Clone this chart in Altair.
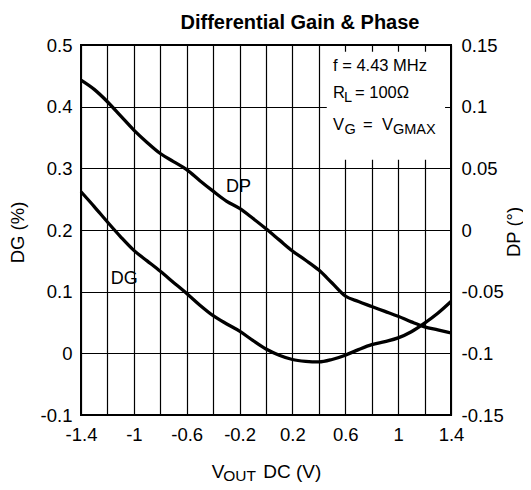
import altair as alt
import pandas as pd

# ---- data ----
vout = [-1.4, -1.3, -1.2, -1.1, -1.0, -0.9, -0.8, -0.7, -0.6, -0.5, -0.4, -0.3, -0.2, -0.1,
        0.0, 0.1, 0.2, 0.3, 0.4, 0.5, 0.6, 0.7, 0.8, 0.9, 1.0, 1.1, 1.2, 1.3, 1.4]
dg_pct = [0.262, 0.238, 0.213, 0.189, 0.167, 0.150, 0.133, 0.115, 0.097, 0.078, 0.061, 0.048,
          0.036, 0.021, 0.007, -0.003, -0.010, -0.013, -0.014, -0.010, -0.003, 0.006, 0.014,
          0.019, 0.025, 0.035, 0.049, 0.065, 0.084]
dp_deg = [0.1215, 0.114, 0.104, 0.0925, 0.081, 0.071, 0.062, 0.0555, 0.049, 0.040, 0.0315,
          0.0235, 0.0175, 0.0095, 0.001, -0.008, -0.017, -0.0245, -0.0325, -0.043, -0.0535,
          -0.058, -0.062, -0.066, -0.070, -0.0745, -0.0785, -0.081, -0.0835]

x_grid = [-1.4, -1.2, -1.0, -0.8, -0.6, -0.4, -0.2, 0.0, 0.2, 0.4, 0.6, 0.8, 1.0, 1.2, 1.4]
dg_ticks = [-0.1, 0.0, 0.1, 0.2, 0.3, 0.4, 0.5]
dp_ticks = [-0.15, -0.1, -0.05, 0.0, 0.05, 0.1, 0.15]
box_x = [0.46, 1.355]
box_y = [0.314, 0.489]

FONT = "Liberation Sans"
TICK_FS = 18.5

df_dg = pd.DataFrame({"x": vout, "v": dg_pct})
df_dp = pd.DataFrame({"x": vout, "v": dp_deg})
df_box = pd.DataFrame({"x": [box_x[0]], "x1": [box_x[1]], "v": [box_y[0]], "v1": [box_y[1]]})

num_fmt = "datum.value < 0 ? '-' + toString(abs(datum.value)) : toString(datum.value)"
x_fmt = "round(abs(datum.value) * 10) % 4 == 2 ? (" + num_fmt + ") : ''"

x_scale = alt.Scale(domain=[-1.4, 1.4], nice=False, zero=False)
x_axis = alt.Axis(values=x_grid, grid=True, ticks=False, domain=False, labelExpr=x_fmt,
                  labelPadding=10, title=None, labelFont=FONT, labelFontSize=TICK_FS,
                  labelColor="black", gridColor="black", gridWidth=1.2, gridOpacity=1,
                  labelFlush=False)
y_left_scale = alt.Scale(domain=[-0.1, 0.5], nice=False, zero=False)
y_right_scale = alt.Scale(domain=[-0.15, 0.15], nice=False, zero=False)
y_left_axis = alt.Axis(values=dg_ticks, grid=True, ticks=False, domain=False, labelExpr=num_fmt,
                       labelPadding=9, title=None, labelFont=FONT, labelFontSize=TICK_FS,
                       labelColor="black", gridColor="black", gridWidth=1.2, gridOpacity=1,
                       labelFlush=False, orient="left")

dg_line = alt.Chart(df_dg).mark_line(color="black", strokeWidth=3.3, interpolate="monotone").encode(
    x=alt.X("x:Q", scale=x_scale, axis=x_axis),
    y=alt.Y("v:Q", scale=y_left_scale, axis=y_left_axis),
)

box = alt.Chart(df_box).mark_rect(color="white", opacity=1).encode(
    x=alt.X("x:Q", scale=x_scale, axis=x_axis),
    x2="x1:Q",
    y=alt.Y("v:Q", scale=y_left_scale, axis=y_left_axis),
    y2="v1:Q",
)


def txt(s, x, y, size, bold=False, angle=0, align="left", baseline="alphabetic"):
    return alt.Chart(pd.DataFrame({"t": [s]})).mark_text(
        text=s, font=FONT, fontSize=size, fontWeight="bold" if bold else "normal",
        angle=angle, align=align, baseline=baseline, color="black",
    ).encode(x=alt.value(x), y=alt.value(y))


texts = [
    txt("Differential Gain & Phase", 219, -16.5, 20, bold=True, align="center"),
    txt("f = 4.43 MHz", 252, 25.7, 16.5),
    txt("R", 252, 53.3, 16.5),
    txt("L", 263, 57.3, 14.5),
    txt("= 100\u03a9", 274, 53.3, 16.5),
    txt("V", 252, 85, 16.5),
    txt("G", 263.5, 89, 14.5),
    txt("=", 282, 85, 16.5),
    txt("V", 301, 85, 16.5),
    txt("GMAX", 312, 89, 14.5),
    txt("DP", 145, 146.7, 18),
    txt("DG", 29.7, 239, 18),
    txt("V", 130.7, 432.5, 19),
    txt("OUT", 142.3, 435.5, 15.5),
    txt("DC (V)", 182.3, 432.5, 19),
    txt("DG (%)", -63, 187.5, 18.5, angle=270, align="center", baseline="middle"),
    txt("DP (\u00b0)", 433, 187, 18.5, angle=270, align="center", baseline="middle"),
]

left = alt.layer(dg_line, box, *texts)

dp_line = alt.Chart(df_dp).mark_line(color="black", strokeWidth=3.3, interpolate="monotone").encode(
    x=alt.X("x:Q", scale=x_scale, axis=x_axis),
    y=alt.Y("v:Q", scale=y_right_scale,
            axis=alt.Axis(values=dp_ticks, grid=False, ticks=False, domain=False, labelExpr=num_fmt,
                          labelPadding=10, title=None, labelFont=FONT, labelFontSize=TICK_FS,
                          labelColor="black", labelFlush=False, orient="right")),
)

chart = alt.layer(left, dp_line).resolve_scale(y="independent").properties(
    width=370, height=370,
    autosize=alt.AutoSizeParams(type="none"),
    padding={"left": 73, "top": 37, "right": 72, "bottom": 67},
    background="white",
).configure_view(stroke="black", strokeWidth=2)

chart.save("out.html", embed_options={"renderer": "svg", "actions": False})
